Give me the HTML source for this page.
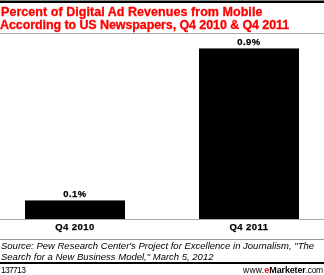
<!DOCTYPE html>
<html><head><meta charset="utf-8">
<style>
html,body{margin:0;padding:0;background:#fff;}
body{width:324px;height:275px;position:relative;overflow:hidden;font-family:"Liberation Sans",sans-serif;}
.a{position:absolute;white-space:nowrap;will-change:transform;}
#topbar0{left:0;top:0;width:324px;height:1px;background:#888;}
#topbar{left:0;top:1px;width:324px;height:2px;background:#000;}
.t{font-weight:bold;font-size:12.5px;line-height:13px;color:#f00;-webkit-text-stroke:0.3px #f00;}
#t1{left:1px;top:6px;letter-spacing:0.05px;}
#t2{left:0px;top:19px;letter-spacing:-0.09px;}
#tline{left:0;top:33px;width:324px;height:1px;background:#aaa;}
.bar{background:#000;box-shadow:inset 0 1px 0 #707070;}
.val{font-weight:bold;font-size:9.5px;line-height:12px;color:#000;text-align:center;letter-spacing:0.45px;-webkit-text-stroke:0.25px #000;}
#axis{left:0;top:219px;width:324px;height:1px;background:#aaa;}
.s{font-style:italic;font-size:9.5px;line-height:10px;color:#000;}
#s1{left:1px;top:241px;}
#s2{left:1px;top:252px;}
#sline{left:0;top:239px;width:324px;height:1px;background:#999;}
#bline{left:0;top:262px;width:324px;height:2px;background:#000;}
#id{left:1px;top:265px;font-size:8.5px;line-height:10px;letter-spacing:-0.7px;color:#000;}
#em{left:243px;top:266px;font-size:8.5px;line-height:9px;color:#000;}
#w1{letter-spacing:0.25px;}
#w2,#w3{font-size:9px;}
#w3{letter-spacing:-0.15px;}
#w4{letter-spacing:-0.3px;}
</style></head><body>
<div class="a" id="topbar0"></div>
<div class="a" id="topbar"></div>
<div class="a t" id="t1">Percent of Digital Ad Revenues from Mobile</div>
<div class="a t" id="t2">According to US Newspapers, Q4 2010 &amp; Q4 2011</div>
<div class="a" id="tline"></div>
<div class="a bar" style="left:199px;top:48px;width:100px;height:171px;"></div>
<div class="a bar" style="left:25px;top:200px;width:100px;height:19px;"></div>
<div class="a val" style="left:25px;top:188px;width:100px;">0.1%</div>
<div class="a val" style="left:199px;top:36px;width:100px;">0.9%</div>
<div class="a" id="axis"></div>
<div class="a val" style="left:25px;top:221px;width:100px;">Q4 2010</div>
<div class="a val" style="left:199px;top:221px;width:100px;">Q4 2011</div>
<div class="a" id="sline"></div>
<div class="a s" id="s1">Source: Pew Research Center's Project for Excellence in Journalism, "The</div>
<div class="a s" id="s2">Search for a New Business Model," March 5, 2012</div>
<div class="a" id="bline"></div>
<div class="a" id="id">137713</div>
<div class="a" id="em"><span id="w1">www.</span><b id="w2" style="color:#f00">e</b><b id="w3">Marketer</b><span id="w4">.com</span></div>
</body></html>
